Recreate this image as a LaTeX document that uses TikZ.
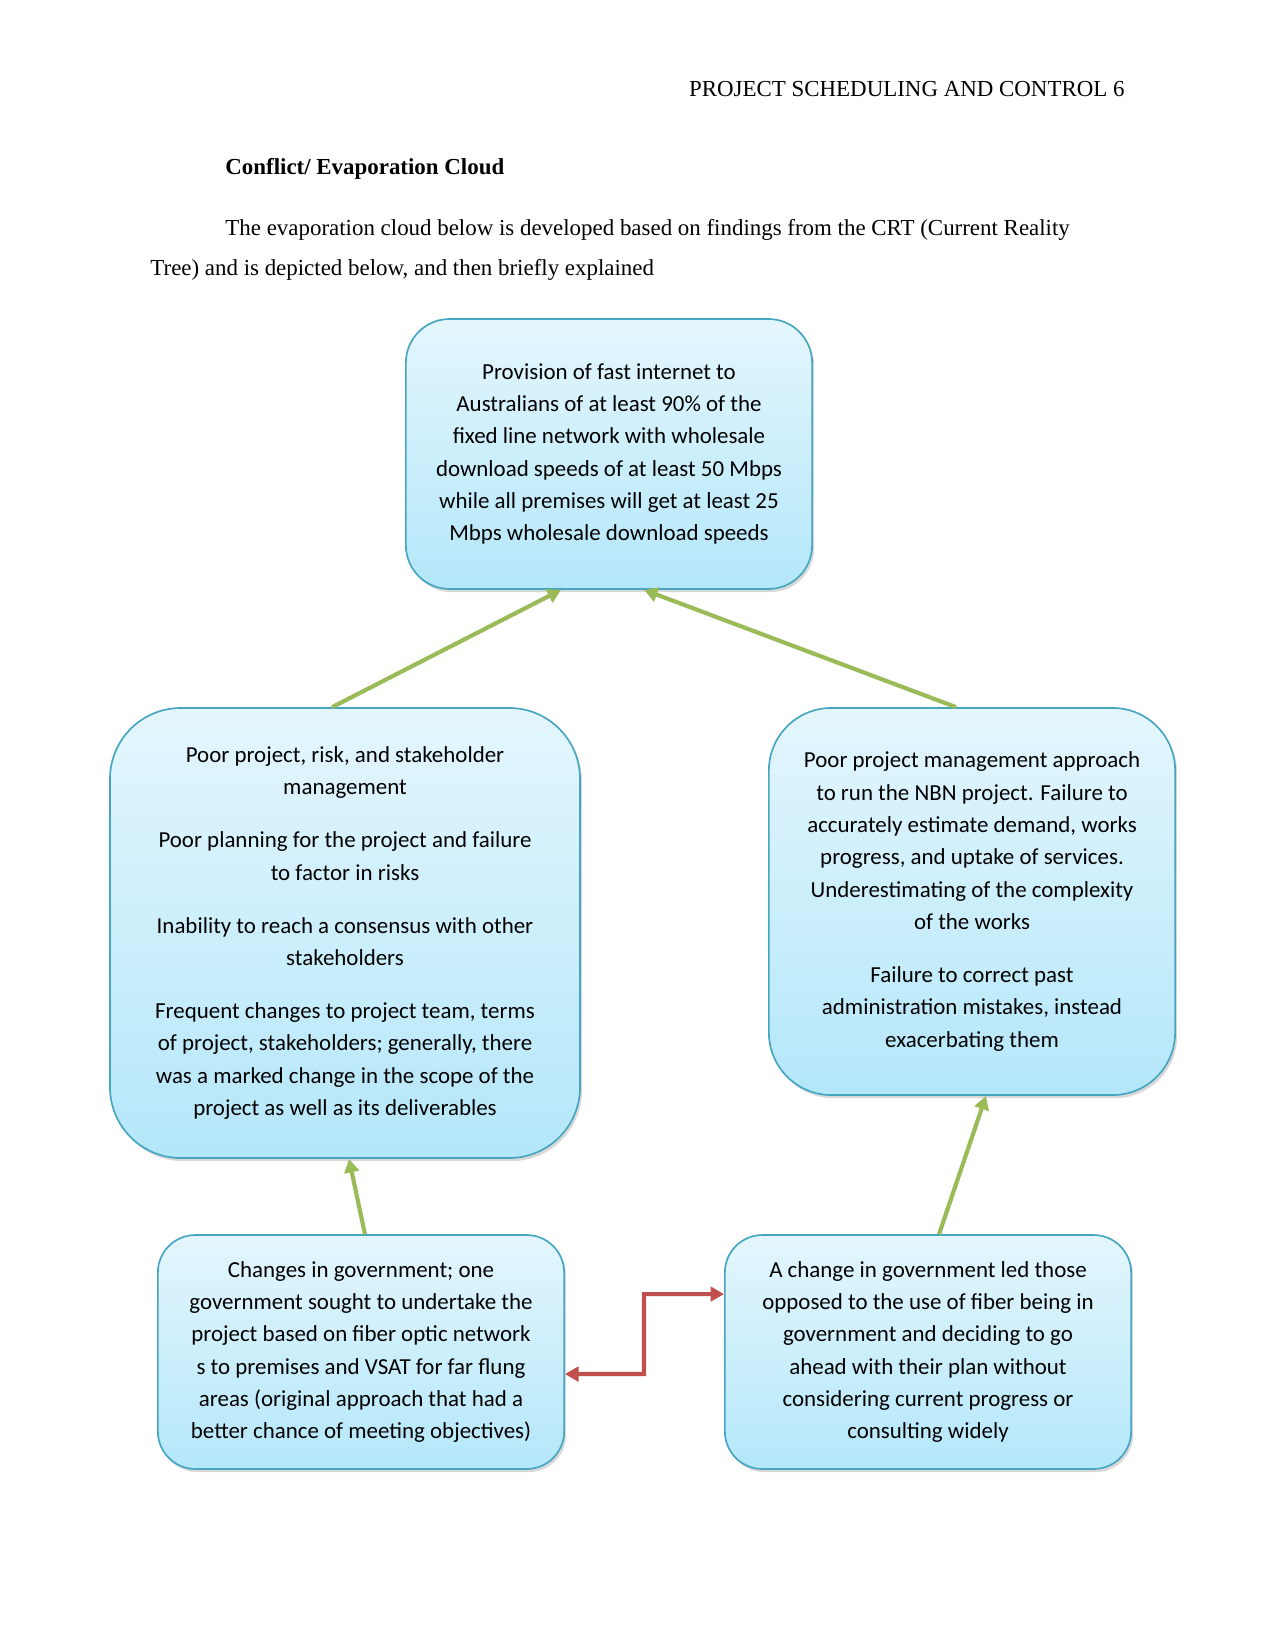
\documentclass[tikz,border=0pt]{standalone}
\usepackage{fontspec}
\setmainfont{Liberation Serif}
\newfontfamily\boxfont{Carlito}
\usetikzlibrary{arrows.meta,calc,shadows}
\definecolor{cloudedge}{RGB}{70,165,192}
\definecolor{cloudtop}{RGB}{228,246,253}
\definecolor{cloudbottom}{RGB}{180,231,250}
\definecolor{needgreen}{RGB}{155,187,89}
\definecolor{conflictred}{RGB}{192,80,77}

\begin{document}
\begin{tikzpicture}[x=0.48pt,y=-0.48pt,
    pagetext/.style={inner sep=0pt, font=\fontsize{11}{13}\selectfont},
    cloudbox/.style={draw=cloudedge, line width=0.8pt, top color=cloudtop, bottom color=cloudbottom,
      align=center, inner sep=0pt, font=\boxfont\fontsize{11}{15.5}\selectfont,
      drop shadow={shadow xshift=1pt, shadow yshift=-1.5pt, opacity=0.3}},
    support/.style={draw=needgreen, line width=2pt, -{Triangle[length=6.5pt,width=7pt]}},
    conflict/.style={draw=conflictred, line width=2pt, {Triangle[length=6.5pt,width=7pt]}-{Triangle[length=6.5pt,width=7pt]}}]
        \useasboundingbox (0,0) rectangle (1275,1650);
        % page text
        \node[pagetext, anchor=base east] (header) at (1125,97) {PROJECT SCHEDULING AND CONTROL 6};
        \node[pagetext, anchor=base west, font=\bfseries\fontsize{11}{13}\selectfont] (title) at (225,175) {Conflict/ Evaporation Cloud};
        \node[pagetext, anchor=base west] (intro1) at (225,236) {The evaporation cloud below is developed based on findings from the CRT (Current Reality};
        \node[pagetext, anchor=base west] (intro2) at (150,276) {Tree) and is depicted below, and then briefly explained};
        % the cloud
        \node[cloudbox, rounded corners=21pt, minimum width=195pt, minimum height=129.6pt] (objective) at (609,454)
          {Provision of fast internet to\\ Australians of at least 90\% of the\\ fixed line network with wholesale\\ download speeds of at least 50 Mbps\\ while all premises will get at least 25\\ Mbps wholesale download speeds};
        \node[cloudbox, rounded corners=34pt, minimum width=225.6pt, minimum height=216pt] (needleft) at (345,933)
          {Poor project, risk, and stakeholder\\ management\\[10pt]
           Poor planning for the project and failure\\ to factor in risks\\[10pt]
           Inability to reach a consensus with other\\ stakeholders\\[10pt]
           Frequent changes to project team, terms\\ of project, stakeholders; generally, there\\ was a marked change in the scope of the\\ project as well as its deliverables};
        \node[cloudbox, rounded corners=30pt, minimum width=195pt, minimum height=185.8pt] (needright) at (972,901.5)
          {Poor project management approach\\ to run the NBN project. Failure to\\ accurately estimate demand, works\\ progress, and uptake of services.\\ Underestimating of the complexity\\ of the works\\[10pt]
           Failure to correct past\\ administration mistakes, instead\\ exacerbating them};
        \node[cloudbox, rounded corners=18pt, minimum width=195pt, minimum height=112.3pt] (wantleft) at (361,1352)
          {Changes in government; one\\ government sought to undertake the\\ project based on fiber optic network\\ s to premises and VSAT for far flung\\ areas (original approach that had a\\ better chance of meeting objectives)};
        \node[cloudbox, rounded corners=18pt, minimum width=195pt, minimum height=112.3pt] (wantright) at (928,1352)
          {A change in government led those\\ opposed to the use of fiber being in\\ government and deciding to go\\ ahead with their plan without\\ considering current progress or\\ consulting widely};
        % connectors
        \draw[support] ([xshift=-6.2pt]needleft.north) -- ([xshift=-23pt]objective.south);
        \draw[support] ([xshift=-7.7pt]needright.north) -- ([xshift=16.8pt]objective.south);
        \draw[support] ([xshift=1.9pt]wantleft.north) -- ([xshift=1.9pt]needleft.south);
        \draw[support] ([xshift=5.3pt]wantright.north) -- ([xshift=6.7pt]needright.south);
        \coordinate (elbow) at (644,1374);
        \draw[conflict] ([yshift=-10.6pt]wantleft.east) -- (elbow) |- ([yshift=27.8pt]wantright.west);
\end{tikzpicture}
\end{document}
